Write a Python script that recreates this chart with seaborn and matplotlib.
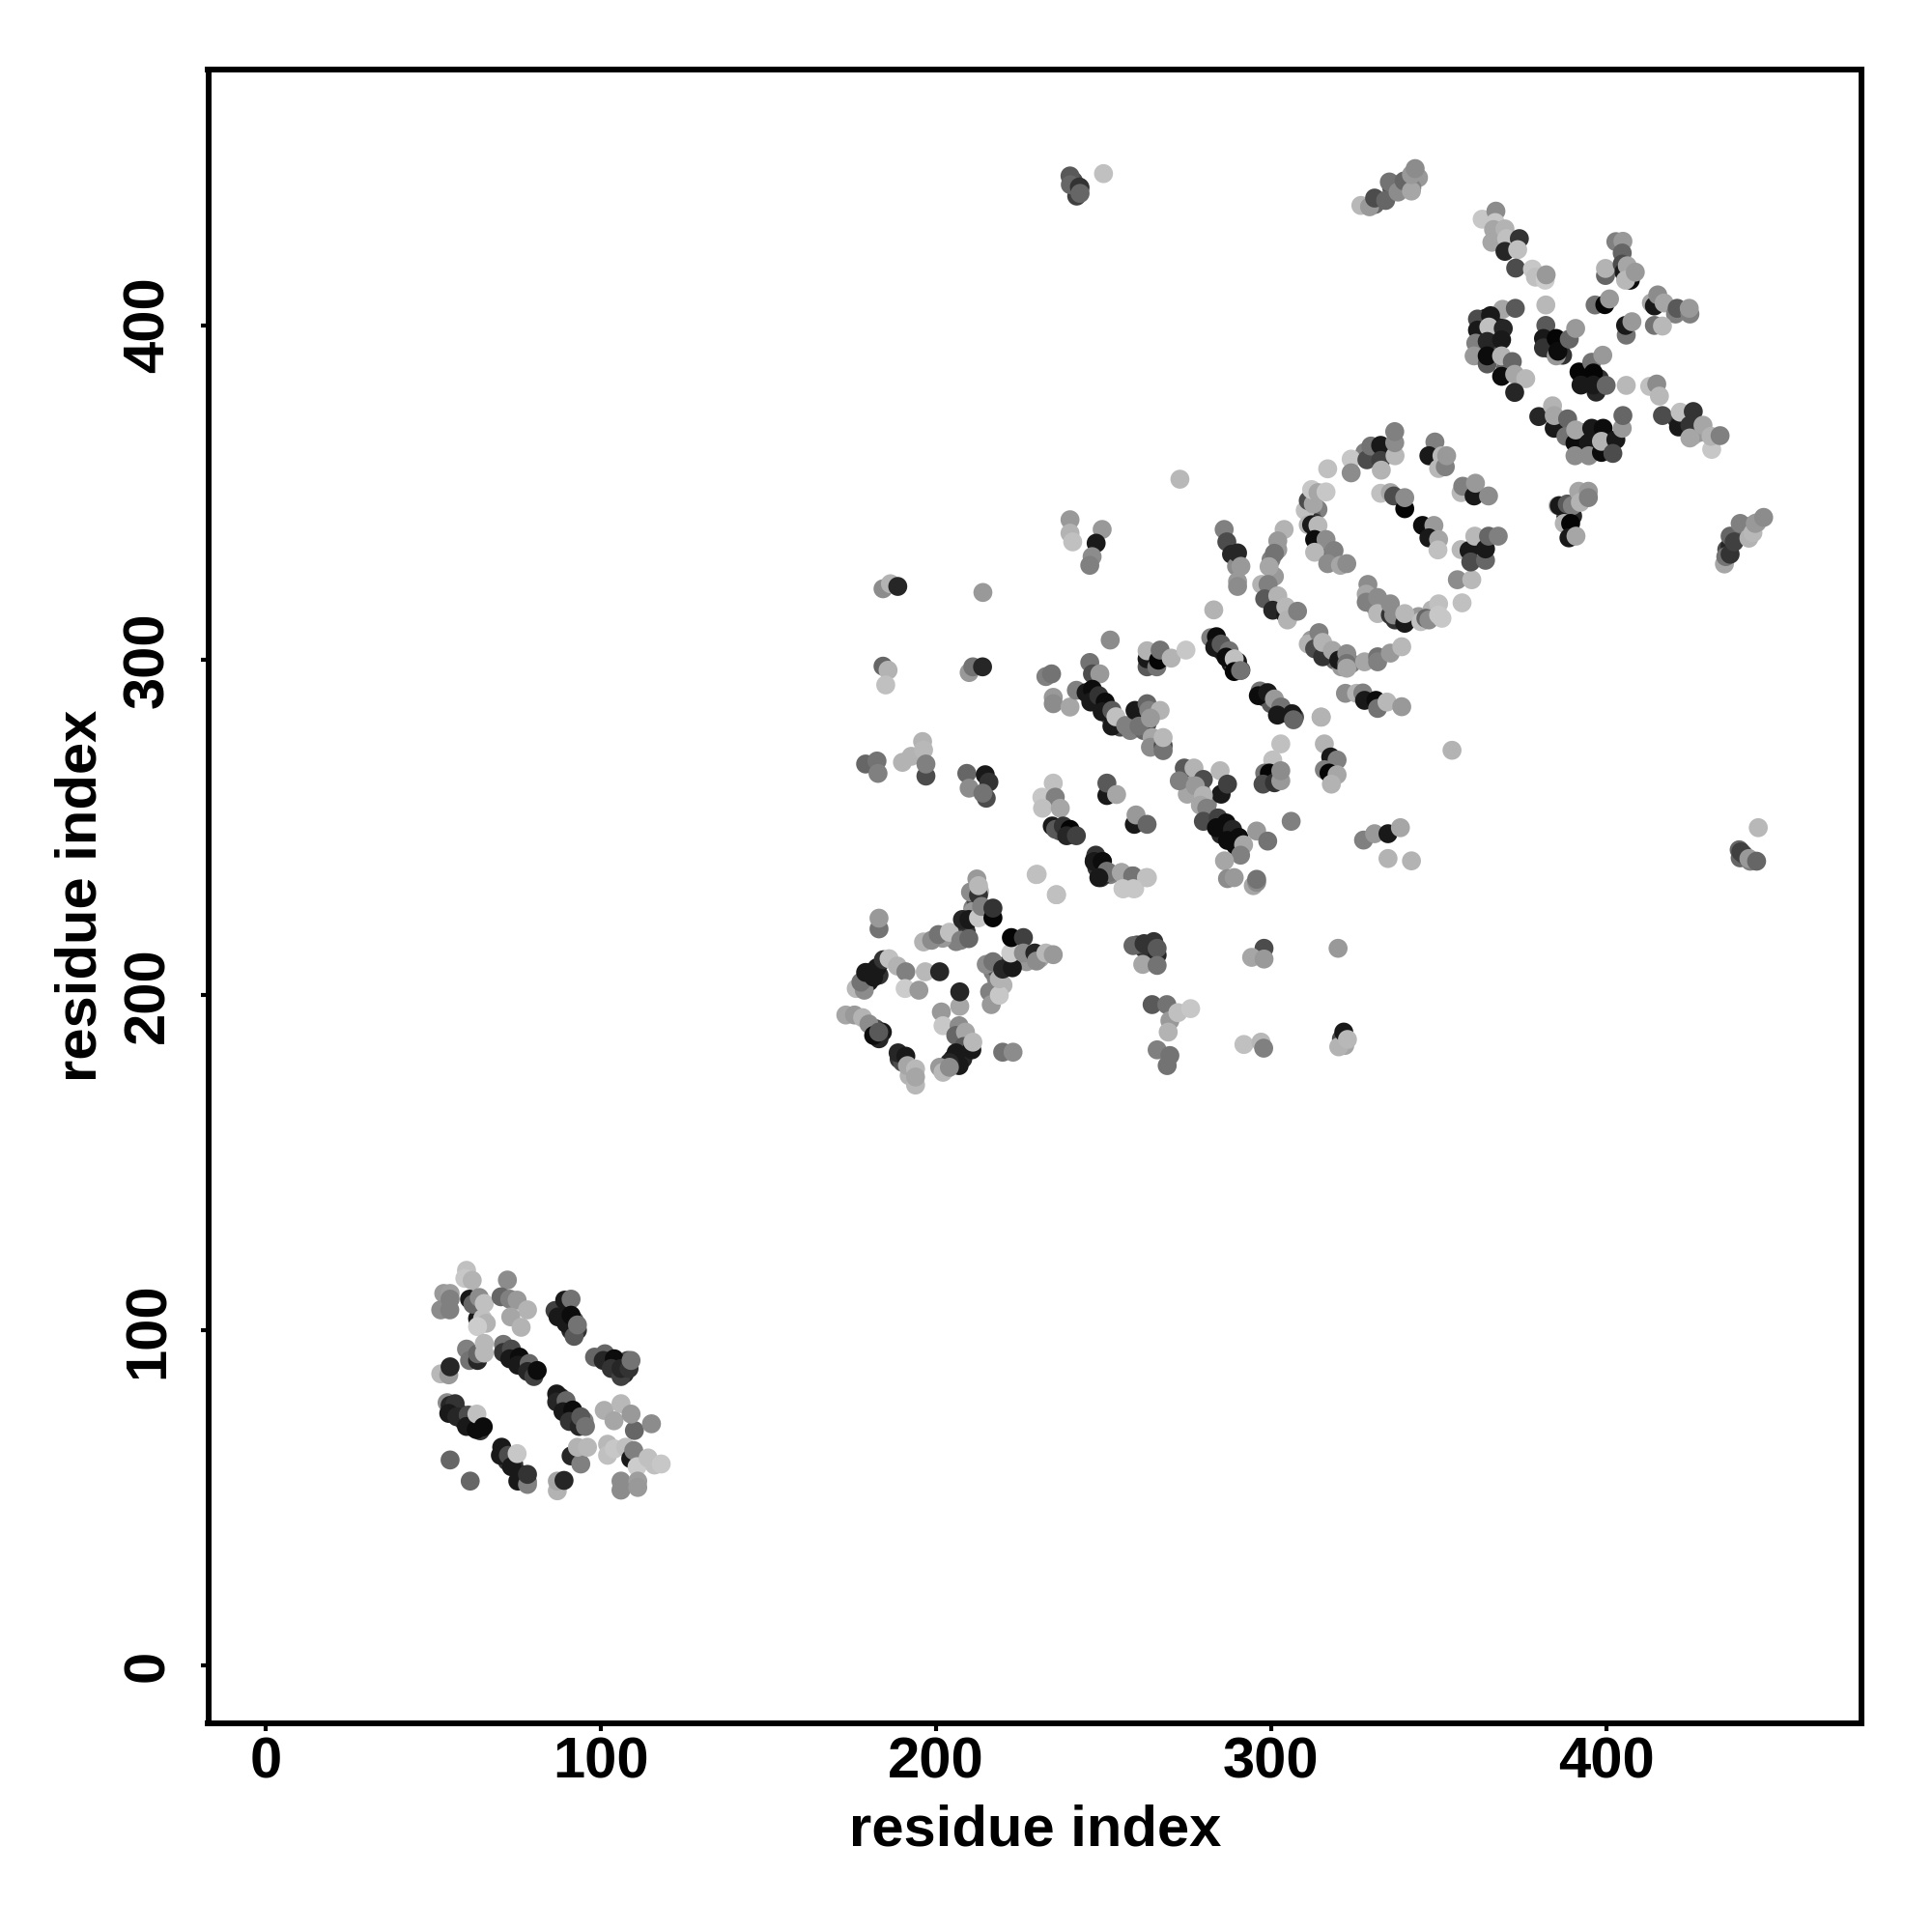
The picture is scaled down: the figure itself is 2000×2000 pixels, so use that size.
import matplotlib
matplotlib.use("Agg")
import matplotlib.pyplot as plt
import pandas as pd
import seaborn as sns

# (residue i, residue j, grey score), region by region
region_g = [
(88,106,.3),(90,105,.2),(92,103,.3),(93,100,.2),(91,100,.15),(102,92,.2),(103,90,.1),(105,90,.3),(107,87,.15),(108,91,.3),
(72,93,.35),(74,92,.2),(76,90,.15),(77,89,.1),(79,88,.2),(80,87,.1),(88,80,.2),(90,77,.1),(92,74,.3),(94,72,.3),(95,73,.5),
(56,76,.15),(58,75,.1),(59,73,.2),(61,72,.15),(62,71,.1),(64,70,.2),(71,63,.1),(72,61,.2),(74,60,.2),(76,57,.15),(77,56,.3),(78,55,.25),
(178,204,.2),(180,204,.1),(181,207,.15),(183,206,.2),(182,190,.3),(184,189,.1),(183,187,.15),(189,181,.2),(190,180,.3),(192,178,.6),(192,176,.7),
(205,181,.1),(207,183,.2),(209,186,.3),(203,178,.3),(208,181,.15),(210,185,.5),(211,226,.5),(212,228,.3),(211,225,.6),(213,231,.7),(214,225,.4),
(208,218,.4),(209,219,.2),(206,216,.5),(202,217,.6),(218,205,.5),(220,203,.7),(217,207,.5),(217,199,.6),(218,208,.3),(221,209,.2),(224,210,.4),(227,210,.6),(231,211,.65),
(247,289,.2),(249,287,.1),(251,286,.2),(252,283,.4),(254,281,.6),(255,280,.3),(258,279,.5),(262,279,.4),(265,276,.7),(263,281,.3),(266,275,.5),
(284,305,.3),(285,303,.2),(286,302,.15),(288,299,.1),(289,298,.3),(291,297,.2),(298,289,.2),(300,287,.35),(303,286,.25),(305,284,.15),(307,283,.3),
(286,250,.1),(285,248,.15),(288,247,.1),(290,246,.2),(283,253,.3),(281,257,.5),(276,263,.6),(279,261,.4),(275,260,.65),
(238,250,.1),(240,248,.1),(237,249,.3),(248,238,.2),(250,236,.3),(252,236,.5),(264,213,.35),(262,214,.2),(260,215,.3),(266,212,.15),
(333,362,.2),(331,361,.4),(328,362,.5),(314,345,.5),(312,343,.4),(313,341,.2),(314,337,.3),(315,334,.6),(317,331,.45),(300,330,.5),(302,333,.6),(301,325,.6),
(299,320,.3),(300,318,.1),(302,317,.5),(303,315,.25),(305,313,.35),(329,320,.6),(331,316,.5),(333,315,.3),(337,312,.2),(341,312,.5),(344,313,.6),(348,315,.7),
(315,303,.3),(317,302,.5),(319,300,.4),(321,298,.6),(312,306,.6),(324,299,.5),(286,339,.5),(286.8,335.3,.3),(288.2,331.6,.15),(289.7,328,.55),(290,323.5,.6),
(389,345,.4),(390,343,.15),(392,348,.6),(388,343,.1),(363,398,.1),(364,402,.05),(365,397,.1),(366,393,.1),(367,400,.1),(368,391,.3),(370,387,.4),
(382,395,.1),(383,393,.15),(386,394,.1),(387,391,.2),(393,384,.05),(395,383,.1),(397,380,.15),(398,384,.2),(392,368,.2),(394,366,.35),(397,368,.15),(400,366,.2),(401,363,.1),(393,362,.4),
(421,372,.2),(423,371,.4),(426,367,.7),(428,368,.6),(436,333,.3),(437,334,.15),(439,337,.25),(441,339,.35),(443,340,.6),(445,341,.65),(437,337,.4),
(440,241,.4),(441,242,.3),(443,240,.5),(241,443,.3),(243,441,.3),(242,438.5,.25),(331,436,.4),(336,441,.3),(338,442,.5),(344,444,.6),(342,441,.5),(340,441,.45),(321,187,.3),(322,185,.65),
]
region_a = [
(59.9,117.9,.75),(59.4,115.5,.78),(61.6,114.9,.7),(53.1,111,.6),(55,111,.62),(52.2,106.1,.55),(54.9,106.1,.5),(55,109.3,.5),
(60.8,109.3,.1),(63.2,103.5,.1),(61.8,107.8,.4),(63.7,109.8,.55),(65.2,108,.75),(64.7,103.5,.75),(65.8,102.1,.7),(63.2,101.1,.8),
(72.1,115,.55),(70.2,110,.4),(72.8,109.3,.5),(75,109,.6),(78.1,106.1,.7),(73.1,104,.65),(76.2,100.9,.7),
(86.3,105.9,.25),(89.2,109,.1),(91.1,109.3,.45),(87.2,104,.1),(89.6,102.1,.1),(91.1,104.5,.05),(92,98.2,.35),(93,101.6,.45),
(98.1,92,.4),(101.2,93,.4),(100.7,91,.15),(104,91.5,.05),(103.1,88.6,.2),(106,86.2,.25),(106,88.6,.15),(108.4,88.6,.2),(109,91,.45),
(70.9,95.8,.45),(70.9,93.4,.2),(73.3,94.4,.3),(72.8,91.5,.1),(75.7,92,.05),(75.2,89.6,.1),(78.6,90.1,.4),(78.1,87.7,.15),(80,86.2,.25),(81,88,.05),
(59.9,94.4,.5),(60.8,91,.45),(63.2,91,.15),(63.2,93,.4),(65.2,96.1,.72),(65.2,93.2,.72),(52.2,87,.72),(54.6,86.7,.6),(55,89.1,.15),
(86.8,81,.1),(86.8,78.6,.15),(89.6,79,.4),(88.7,75.7,.1),(91.6,76.2,.05),(90.6,72.8,.2),(93.5,71.3,.15),(94,74.2,.35),(95.4,71.3,.45),
(101,76.1,.68),(106,78.1,.72),(103.9,73,.65),(110,70.1,.4),(109,75,.6),(115.1,72.1,.55),
(54.1,78.4,.55),(55,77.6,.15),(56.5,78.1,.2),(54.6,75.2,.1),(57,74.2,.15),(60.4,74.7,.3),(59.9,71.3,.1),(62.8,70.4,.05),(63,75,.75),(64.9,71.2,.05),
(55,61.3,.4),(61,55,.4),
(70.4,65.1,.1),(70,62.7,.1),(72.4,62.7,.3),(73.3,59.3,.1),(75,63.2,.78),(75.2,55,.1),(78.1,54,.5),(78.1,57,.2),
(87,52.1,.7),(87,55,.65),(89,55.2,.15),(91.1,62.5,.15),(94,60.1,.5),(93,65.1,.7),(96,65.1,.72),
(102,66,.72),(102,62.7,.75),(104,64.6,.78),(107.4,65.1,.75),(108.9,61.7,.1),(109.8,64.1,.5),(110.8,59.3,.8),(114.1,61.9,.75),(116,59.8,.75),(118,60.1,.78),
(106,55,.55),(106,52.3,.55),(111,55,.62),(111,53.1,.6),
]
region_b = [
(183,219.8,.45),(183,223,.6),(176.2,202,.72),(178.6,201.5,.55),(177.6,203.9,.45),(179,206.8,.1),(181.4,205.4,.1),(182.4,208.2,.1),(184.3,210.6,.2),
(186,210.9,.75),(188.5,208.7,.7),(191,207,.5),(190.8,202,.8),(194.9,201.5,.6),(196.8,207,.72),(201.1,207,.15),(207.1,196.7,.65),(207.1,201,.15),
(201.6,195,.6),(202.1,190.9,.78),(206.9,190.9,.55),(205.9,188,.4),(208.8,189,.65),(208.3,184.7,.35),(206,182.8,.1),(210.7,183.7,.1),(211,186,.72),
(206.9,179,.1),(204,179.9,.15),(201.1,178.5,.6),(202.1,177,.72),(204,178.5,.55),(219.9,183,.45),(223,183,.55),
(173.1,194.1,.65),(175.7,194.1,.6),(178.1,193.3,.7),(180,191.4,.55),(181.4,188,.05),(182.9,189,.35),(188.7,182.8,.15),(191,181.8,.1),(191.5,179,.65),(193.9,178,.72),(193.9,173.2,.72),(193.9,175.6,.65),
(196.3,215.9,.7),(198.7,216.4,.55),(200.7,218.1,.45),(204,218.8,.75),(207.4,216.4,.5),(209.8,216.9,.4),(207.9,222.6,.15),(209.8,222.6,.1),(212.7,223.1,.78),
(210.3,230.8,.55),(212.2,234.7,.6),(212.7,229.9,.2),(212.7,232.7,.72),(213.6,226.5,.5),(217,223.1,.02),(217,226,.2),(230.2,236.1,.75),(236,230,.75),
(215,209.2,.55),(217,210,.45),(216,201,.5),(216.5,197.2,.6),(218.9,200,.78),(218.9,204.9,.7),(219.9,207.8,.15),(222.8,208.2,.1),(222.3,212.6,.8),(222.5,217.2,.02),(226.1,217.2,.25),(226.1,212.6,.55),(229.5,212.6,.15),(230,210.2,.55),(232.8,212.6,.72),(235,212.1,.6),
(247.3,240.4,.2),(249.7,239.9,.05),(249.2,235.1,.2),(251.6,236.6,.45),(255.4,236.6,.65),(258.8,235.6,.5),(263.1,235.1,.75),(255.9,231.8,.75),(259.3,231.8,.78),
(258.8,214.8,.4),(262.1,215.4,.2),(265,216,.2),(266,214,.35),(261.7,209.2,.65),(266,208.9,.45),(264.5,197.2,.35),(268.9,197.2,.45),(269.8,192.4,.6),(272.2,194.8,.75),(276,196,.78),(269.3,189,.7),(266,183.7,.5),(269.8,182,.45),(269,179,.45),
]
region_c = [
(252,306,.55),(232.8,295.1,.5),(234.5,295.9,.45),(235,288.9,.6),(235,287,.55),(240,286,.65),(241.9,291,.5),(245.9,299.3,.45),(246.7,295.9,.3),(248.9,295.9,.6),
(244.8,290.3,.1),(246.7,291.3,.05),(246.2,287.5,.1),(248.6,289.4,.2),(250.5,287.5,.05),(249.6,284.6,.1),(252.5,285,.35),(252.5,280.3,.1),(253.7,283.1,.75),(256.6,280.5,.5),
(259.4,285,.1),(263,287,.4),(263.5,285,.5),(266.9,285,.7),(260.6,280.3,.45),(264,282.7,.6),(264.5,276.9,.65),(264,274,.55),(267.8,274.5,.3),(267.8,273,.45),(267.8,276.9,.72),
(263,298,.35),(263,300.4,.1),(263,302.8,.7),(265.9,298,.45),(266.4,300,.02),(266.9,303,.45),(270.2,300.6,.7),(274.6,303,.78),
(282.9,315,.7),(282,306.7,.5),(283.7,307,.05),(283.2,303.8,.1),(285.1,304.8,.35),(287.5,302.8,.45),(286.6,300.9,.05),(290,299.5,.1),(289,300.4,.75),(289,296.6,.02),(290.9,296.9,.45),
(296.7,290.8,.45),(296.2,289.4,.05),(299,290.3,.1),(301,288.4,.6),(302.9,286,.45),(301.9,283.6,.1),(306.3,284,.1),(306.7,282.2,.4),
(314.9,283,.7),(315.9,275,.7),(317.8,271.1,.1),(319.7,270.2,.5),(315.9,267.3,.5),(317.3,266.3,.02),(319.7,265.8,.65),(318,263,.7),
(302.9,275,.75),(300.5,270.2,.75),(298.1,266.3,.45),(299.5,266.3,.02),(297.6,263,.3),(301,263.4,.2),(302.9,264,.6),(302.9,267,.55),
(274.1,267.8,.35),(272.6,264,.5),(277,267.8,.7),(279.8,264.4,.3),(284.8,267,.72),(285.1,260,.1),(287,263,.25),(277.4,262.5,.6),(279.8,259.6,.7),(278.9,256.7,.65),(280.8,255.8,.5),(279.8,251.9,.3),
(284.2,252.9,.25),(283.7,250,.05),(286.6,251.4,.05),(288.5,249.5,.15),(287,246.2,.05),(290.4,247.1,.05),(289.4,244.7,.05),(291.8,244.9,.65),(295.7,249,.6),(299,246,.45),(290.9,241.8,.5),(286.1,240.1,.65),(287,234.8,.55),(289,235.1,.6),(294.7,232.7,.65),(295.7,233.7,.55),(295.7,234.6,.45),(306,251.9,.5),
(235,263.3,.75),(231.6,259.1,.78),(235.6,259.1,.5),(231.8,255.8,.75),(237.1,255.8,.65),(234.7,250.5,.1),(235.7,249.5,.35),(238,250.5,.2),(240,249.5,.02),(239,247.6,.15),(241.9,247.6,.25),
(251,259.6,.1),(251,263.3,.35),(253.9,259.9,.65),(259.2,251,.1),(259.7,253.8,.6),(263,251,.4),
(247.7,241.8,.2),(247.2,239.9,.1),(249.6,239.9,.05),(251,237,.45),(248.6,235.1,.1),(255.3,236.6,.65),(258.7,235.6,.45),(262.8,235.1,.75),(255.8,231.8,.78),(258.9,231.8,.78),(229.9,236,.75),(235.9,230,.75),
(297.9,214,.3),(294.2,211.3,.65),(297.9,210.8,.6),(320,214,.6),(272.8,354,.72),
]
region_d = [
(316.9,357.1,.75),(323.9,360,.78),(323.9,355.9,.55),(328.6,359.8,.3),(329.8,363.9,.45),(332.7,364.1,.1),(332.7,359.6,.25),(332.9,356.7,.7),(337,361,.72),(336.9,364.9,.55),(336.9,368.2,.5),
(348.9,365.1,.5),(347.1,361,.1),(350,357.2,.72),(351,361,.72),(352,357.7,.5),(352.4,361,.6),(356.7,350,.72),(357.2,351.9,.5),(360.6,349,.1),(361,352.8,.6),(364.9,349,.55),
(310.2,344.7,.75),(311.1,347.6,.3),(312.6,346.6,.65),(312.1,350.9,.78),(314,350,.65),(316.4,350.2,.78),
(311.1,340.4,.7),(312.1,340.4,.1),(314,340.2,.72),(313,336,.05),(316.4,336,.55),(313,332.2,.72),(318.8,332.7,.5),(316.9,328.8,.55),(320.7,328.3,.65),(322.6,328.8,.55),
(303.9,339,.7),(302,335.6,.6),(301,331.9,.45),(299.4,327.9,.65),(290,332,.15),(291,328,.6),(290,322,.55),
(297.2,322.6,.7),(299.1,322.6,.5),(298.1,318.3,.35),(302,319.2,.7),(300.5,314.9,.15),(304.4,313.5,.1),(304.4,315.9,.72),(304.9,312,.7),(307.9,314.6,.5),
(328.9,322.6,.55),(328.4,319.7,.65),(328.4,317.3,.5),(331.8,318.7,.55),(331.8,313.9,.72),(335.6,313.5,.2),(335.6,316.8,.55),(336.6,313.5,.55),(339.9,311,.1),(339.9,313.9,.72),(344.7,311.5,.75),(346.2,312.5,.4),(347.1,312,.55),(350,316.8,.75),(350,313.5,.78),(351,312.5,.78),
(355.6,324,.55),(359.9,324,.72),(357,317.1,.75),(356.7,333,.72),(359.1,332.7,.1),(359.6,329.3,.3),(364,329.8,.4),(360.8,337,.72),(364,333.2,.1),(364.9,337,.4),(367.8,337,.5),
(332.7,349.8,.75),(335.6,350,.65),(336.6,349,.3),(339.9,345.2,.02),(339.9,348.5,.55),(345.2,340.2,.05),(348.6,340.2,.6),(347.1,336.5,.1),(350,336,.65),(349.8,332.9,.75),
(311.1,304.8,.7),(313,303.4,.3),(314.3,308.2,.5),(315.4,301,.2),(315.4,305.3,.7),(318.3,302.9,.65),(320.2,300,.1),(322.6,301.9,.55),(322.6,299,.45),(322.6,297.6,.65),(327.9,299.5,.65),(331.8,301,.45),(331.8,299.5,.5),(335.6,302.1,.6),(339,304,.72),
(322.2,290.1,.55),(325.5,290.1,.7),(327.4,290.2,.5),(327.9,288,.1),(331.3,288,.05),(331.8,285.6,.45),(334.6,287.5,.72),(339,286.1,.6),(315,283,.7),(354,273.1,.7),
(385.6,346.1,.75),(386,346.1,.1),(388.4,346.6,.35),(389.9,346.1,.5),(391.8,350.4,.65),(392.3,347.1,.7),(394.7,350.4,.6),(394.7,348.5,.5),(387.5,340.8,.7),(389.4,340.8,.02),(388.9,336.5,.1),(391,337,.65),
]
region_e = [
(363,431.6,.78),(367.1,434,.55),(366.9,430.6,.78),(366.4,428.5,.65),(369.8,428.7,.7),(365.9,424.7,.65),(370.3,425.8,.75),(369.8,422,.15),(374.1,425.8,.2),(373.6,422.5,.75),(373,417,.3),(378,416.7,.78),(378.9,414.3,.75),(381.8,413.4,.8),(382.1,415,.6),
(382,406,.72),(382,399.9,.35),(381.3,396,.1),(381.3,393.2,.2),(385.1,396,.02),(385.1,390.8,.6),(385.6,392.2,.05),(389,395.8,.4),(390.9,399,.6),
(369.1,404.7,.65),(372.9,405,.35),(361.6,401.8,.3),(365.5,402.8,.1),(361.6,398.5,.1),(365,399.4,.75),(369.3,399,.15),(361.1,394.6,.5),(364.5,395.1,.15),(368.8,395.6,.1),(360.6,390.8,.6),(364.5,388.4,.35),(364.5,390.8,.05),(368.8,390.8,.7),(372,389.1,.4),(368.8,384.7,.05),(372.7,385.3,.65),(376,384,.72),(372.7,379.9,.15),
(396.7,406,.45),(399.6,406.1,.02),(401,407.8,.6),(406,397,.45),(405.8,399.9,.1),(407.7,401,.6),
(402.9,424.9,.5),(405,425,.6),(404.8,421.5,.4),(399.8,414.8,.4),(399.8,416.9,.7),(404.8,418.2,.3),(405.3,415.8,.1),(406.3,417.7,.65),(407.2,413.4,.05),(405.8,413.4,.72),(408.7,415.8,.6),
(413.5,406.6,.65),(414.4,405.7,.1),(415.4,409,.55),(417.3,406.6,.65),(420.7,403.3,.5),(421.2,405,.35),(425,403.3,.5),(424.8,405,.6),(414.4,399.9,.45),(416.8,399.7,.72),
(391.9,386,.02),(395.7,388.9,.45),(396.2,385.7,.02),(399,391,.6),(392.5,382.1,.1),(396.2,382.1,.1),(400,382,.4),(406,382,.72),
(413,381.7,.75),(415.1,382.4,.55),(415.9,378.8,.72),(416.8,373,.3),(421.6,369.6,.1),(422.1,374,.75),(425,370.1,.2),(426,374.2,.2),(425,366.3,.65),(428.9,370.1,.65),(431.5,362.9,.78),(431.3,366.8,.7),(434,367,.5),
(379.9,372.7,.15),(384,375.9,.7),(384.5,369.2,.1),(384.5,373,.65),(388.5,372,.4),(388,366.8,.45),(390.7,364.8,.05),(390.9,368.7,.65),(390.7,361,.55),(394.8,364.8,.1),(394.8,361,.55),(395.7,369.2,.1),(399.1,369.2,.05),(398.6,362,.05),(398.6,365.3,.7),(402.9,365.8,.1),(402,361.7,.3),(404.8,369.2,.6),(405,373,.4),
]
region_f = [
(435.3,328.7,.65),(435.7,330.9,.45),(437,331.6,.2),(438.2,335.3,.25),(440,340.8,.5),(442.6,336.4,.7),(443.8,338,.72),(444.5,340.8,.6),(447,342.6,.55),
(439.7,243.4,.4),(440.2,242.8,.25),(442.6,240.8,.6),(444.9,240,.4),(445.4,250,.72),
(240,444.5,.35),(240.1,441.9,.4),(242.8,441.2,.2),(243,439.3,.4),(250,445.2,.75),
(326.8,435.7,.72),(329.4,435.3,.6),(330.9,437.9,.3),(334.2,437.2,.4),(335.3,442.7,.45),(337.9,439.7,.55),(339.7,443,.4),(341.9,440,.65),(341.9,444.9,.6),(343,446.7,.55),
(184.2,321.3,.55),(186.4,322.8,.7),(188.6,322,.15),(214,320.2,.6),(184.2,298.2,.4),(185.7,297,.7),(185,292.6,.75),(209.9,296.3,.6),(211,298,.45),(213.9,298,.15),
(179,269,.4),(182.4,269.9,.45),(182.7,266.2,.5),(190,269.5,.7),(192.6,271.3,.7),(196,275.7,.7),(196.3,273.2,.72),(197,265.4,.3),(197,269,.5),
(209.2,266.2,.4),(209.9,261.8,.55),(214.7,265.8,.1),(215.8,263.6,.2),(215,258.8,.3),(214,260.3,.45),
(240,341.9,.6),(240,337.9,.7),(240.8,335.3,.75),(249.6,339,.6),(247.8,334.9,.1),(246.6,330.9,.55),(245.9,328.3,.5),
(320.2,184.6,.7),(321.7,189,.1),(322.8,186.8,.72),(291.9,185.3,.75),(297,186,.72),(297.8,184.2,.5),
(327.6,246.3,.5),(330.9,248.2,.6),(334.9,248.2,.1),(338.6,250,.65),(334.9,240.8,.7),(341.9,240.1,.7),
]
regions = [region_g, region_a, region_b, region_c, region_d, region_e, region_f]
x_ticks = [0, 100, 200, 300, 400]
y_ticks = [0, 100, 200, 300, 400]
axis_label = "residue index"

sns.set_theme(style="white")
plt.rcParams["font.family"] = ["Liberation Sans", "DejaVu Sans"]
plt.rcParams["font.weight"] = "bold"

contacts = pd.DataFrame([p for r in regions for p in r], columns=["i", "j", "score"])

fig = plt.figure(figsize=(20, 20), dpi=100, facecolor="white")
ax = fig.add_axes([215.5/2000, 1-1784/2000, (1927-215.5)/2000, (1784-71.5)/2000])
sns.scatterplot(data=contacts, x="i", y="j", hue="score", palette="gray", hue_norm=(0, 1),
                s=200, linewidth=0, alpha=1, legend=False, ax=ax)
ax.set_xlim(-17.2, 476.2)
ax.set_ylim(-17.3, 476.4)
ax.set_xticks(x_ticks)
ax.set_yticks(y_ticks)
ax.tick_params(axis="x", direction="out", length=5.5, width=3, color="black", labelsize=43, labelcolor="black", pad=4, bottom=True)
ax.tick_params(axis="y", direction="out", length=5.5, width=3, color="black", labelsize=43, labelcolor="black", pad=19, left=True)
for t in ax.get_yticklabels():
    t.set_rotation(90)
    t.set_va("center")
for s in ax.spines.values():
    s.set_visible(True)
    s.set_color("black")
    s.set_linewidth(4.3)
ax.set_xlabel(axis_label, fontsize=43, fontweight="bold", color="black")
ax.set_ylabel(axis_label, fontsize=43, fontweight="bold", color="black")
ax.xaxis.set_label_coords(0.5, -0.0490)
ax.yaxis.set_label_coords(-0.0605, 0.5)
fig.savefig("out.png", dpi=100, facecolor="white")
